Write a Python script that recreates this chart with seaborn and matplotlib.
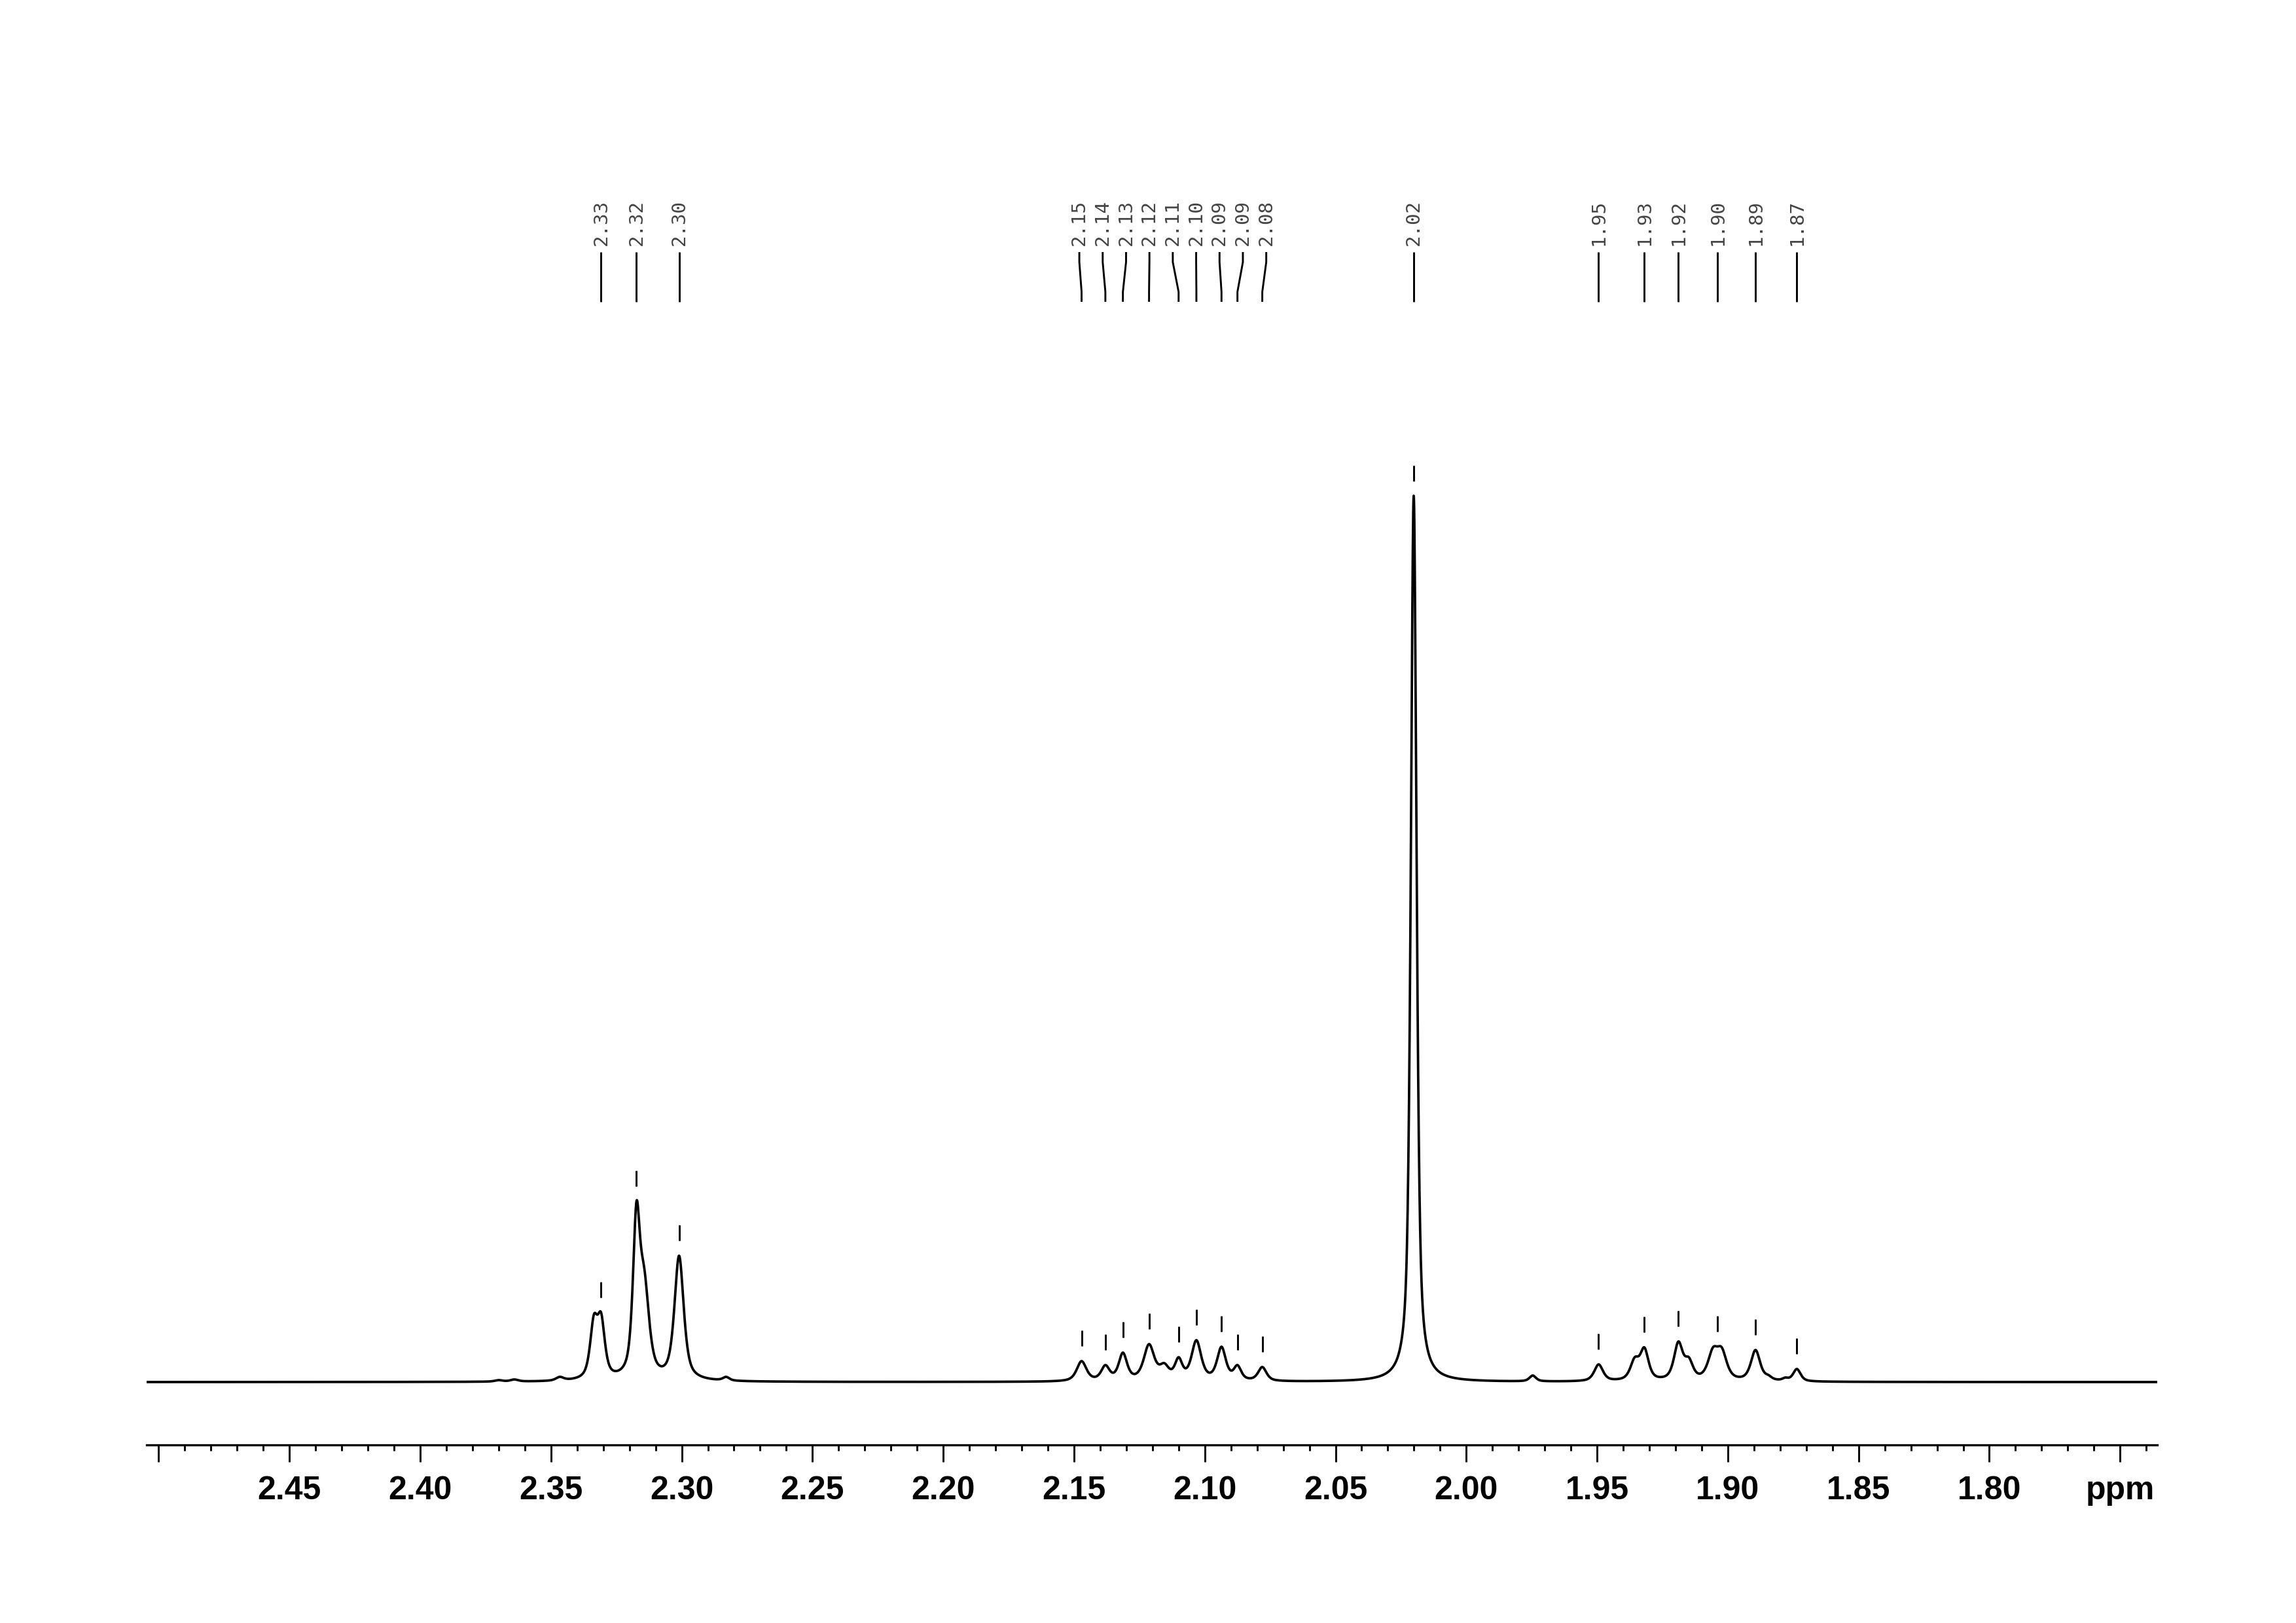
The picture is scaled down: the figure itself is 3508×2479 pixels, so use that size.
import numpy as np
import pandas as pd
import matplotlib
matplotlib.use("Agg")
import matplotlib.pyplot as plt
from matplotlib.ticker import FixedLocator, MultipleLocator
import seaborn as sns

# ---------------- data ----------------
# resolved line components of the 1H spectrum: centre (ppm),
# observed height at the centre (px above baseline), half width (ppm)
line_centres = [2.3700, 2.3640, 2.3466, 2.3336, 2.3308, 2.3173, 2.3143, 2.3010, 2.2830,
                2.1471, 2.1380, 2.1313, 2.1213, 2.1155, 2.1100, 2.1032, 2.0936, 2.0875, 2.0780,
                2.0201,
                1.9746, 1.9494, 1.9356, 1.9319, 1.9189, 1.9149, 1.9057, 1.9023, 1.8894, 1.8845,
                1.8780, 1.8736]
line_heights = [3, 4, 8, 103, 106, 276, 174, 193, 8,
                32, 26, 45, 58, 29, 38, 64, 54, 26, 23,
                1354,
                10, 27, 38, 53, 62, 38, 53, 53, 49, 11,
                7, 20]
line_hwhm = [0.0018, 0.0018, 0.0018, 0.0017, 0.0017, 0.0016, 0.0022, 0.0021, 0.0015,
             0.0022, 0.0019, 0.0019, 0.0024, 0.0022, 0.0017, 0.0022, 0.0020, 0.0017, 0.0019,
             0.0013,
             0.0015, 0.0020, 0.0020, 0.0019, 0.0020, 0.0019, 0.0023, 0.0023, 0.0021, 0.0015,
             0.0013, 0.0017]

# peak-picking annotations
peak_shifts = [2.3308, 2.3173, 2.3010,
               2.1471, 2.1380, 2.1313, 2.1213, 2.1100, 2.1032, 2.0936, 2.0875, 2.0780,
               2.0201,
               1.9494, 1.9319, 1.9189, 1.9039, 1.8894, 1.8736]
peak_labels = ["2.33", "2.32", "2.30",
               "2.15", "2.14", "2.13", "2.12", "2.11", "2.10", "2.09", "2.09", "2.08",
               "2.02",
               "1.95", "1.93", "1.92", "1.90", "1.89", "1.87"]

# axis ticks
tick_values = [2.50, 2.45, 2.40, 2.35, 2.30, 2.25, 2.20, 2.15, 2.10, 2.05,
               2.00, 1.95, 1.90, 1.85, 1.80, 1.75]
tick_labels = ["", "2.45", "2.40", "2.35", "2.30", "2.25", "2.20", "2.15", "2.10", "2.05",
               "2.00", "1.95", "1.90", "1.85", "1.80", "ppm"]

# ---------------- spectrum from the line list ----------------
X_LEFT, X_RIGHT = 2.5046, 1.7358
ETA = 0.65  # Lorentzian fraction of the pseudo-Voigt line shape


def shape(x, c, w):
    lor = 1.0 / (1.0 + ((x - c) / w) ** 2)
    gau = np.exp(-np.log(2) * ((x - c) / w) ** 2)
    return ETA * lor + (1 - ETA) * gau


cen = np.array(line_centres)
tgt = np.array(line_heights, dtype=float)
hw = np.array(line_hwhm)
A = np.array([[shape(ci, cj, wj) for cj, wj in zip(cen, hw)] for ci in cen])
amp = tgt.copy()
for _ in range(600):
    model = A @ amp
    amp *= tgt / model

ppm = np.linspace(X_LEFT, X_RIGHT, 9000)
intensity = np.zeros_like(ppm)
for a, c, w in zip(amp, cen, hw):
    intensity += a * shape(ppm, c, w)

df = pd.DataFrame({"ppm": ppm, "intensity": intensity})

# ---------------- figure ----------------
sns.set_style("white")
plt.rcParams["font.family"] = ["Liberation Sans", "DejaVu Sans"]

W, H = 3508, 2479
fig = plt.figure(figsize=(W / 300, H / 300), dpi=300)
ax_left_px, ax_right_px = 224, 3296
ax_bottom_px, ax_top_px = 2207, 300
base_px = 2111
ax = fig.add_axes([ax_left_px / W, 1 - ax_bottom_px / H,
                   (ax_right_px - ax_left_px) / W, (ax_bottom_px - ax_top_px) / H])

sns.lineplot(data=df, x="ppm", y="intensity", ax=ax, color="black",
             linewidth=0.9, sort=False, estimator=None)

ax.set_xlim(X_LEFT, X_RIGHT)
ax.set_ylim(-(ax_bottom_px - base_px), base_px - ax_top_px)

for s in ["left", "right", "top"]:
    ax.spines[s].set_visible(False)
ax.spines["bottom"].set_linewidth(0.8)
ax.spines["bottom"].set_color("black")
ax.set_yticks([])
ax.xaxis.set_major_locator(FixedLocator(tick_values))
ax.set_xticklabels(tick_labels)
ax.xaxis.set_minor_locator(MultipleLocator(0.01))
ax.tick_params(axis="x", which="major", direction="out", length=6.2, width=0.7,
               color="black", pad=5.0, labelsize=12, labelcolor="black", bottom=True)
ax.tick_params(axis="x", which="minor", direction="out", length=2.2, width=0.7,
               color="black", bottom=True)
for t in ax.get_xticklabels():
    t.set_fontweight("bold")
ax.set_xlabel("")
ax.set_ylabel("")

# ---------------- peak annotations ----------------
px_per_ppm = (ax_right_px - ax_left_px) / (X_LEFT - X_RIGHT)
sep = 35.7 / px_per_ppm


def spread(pos, d):
    groups = [[p] for p in pos]
    changed = True
    while changed:
        changed = False
        out = []
        for g in groups:
            if out:
                prev = out[-1]
                prev_last = np.mean(prev) - d * (len(prev) - 1) / 2
                cur_first = np.mean(g) + d * (len(g) - 1) / 2
                if prev_last - cur_first < d - 1e-12:
                    out[-1] = prev + g
                    changed = True
                    continue
            out.append(g)
        groups = out
    res = []
    for g in groups:
        c = np.mean(g)
        n = len(g)
        res += [c + d * ((n - 1) / 2 - k) for k in range(n)]
    return res


label_pos = spread(peak_shifts, sep)
line_top = base_px - 385
line_bot = base_px - 461
span = line_top - line_bot
text_y = base_px - 375
ppm_asc = ppm[::-1]
int_asc = intensity[::-1]
for lab_x, pk, txt in zip(label_pos, peak_shifts, peak_labels):
    ax.plot([lab_x, lab_x, pk, pk],
            [line_top, line_top - 0.2 * span, line_bot + 0.2 * span, line_bot],
            color="black", linewidth=0.7, clip_on=False, solid_capstyle="butt")
    ax.text(lab_x, text_y, txt, rotation=90, ha="center", va="bottom",
            family=["DejaVu Sans Mono"], fontsize=7, color="#444444", clip_on=False)
    h = np.interp(pk, ppm_asc, int_asc)
    ax.plot([pk, pk], [h + 23, h + 47], color="black", linewidth=0.7,
            solid_capstyle="butt")

fig.savefig("out.png", dpi=300)
